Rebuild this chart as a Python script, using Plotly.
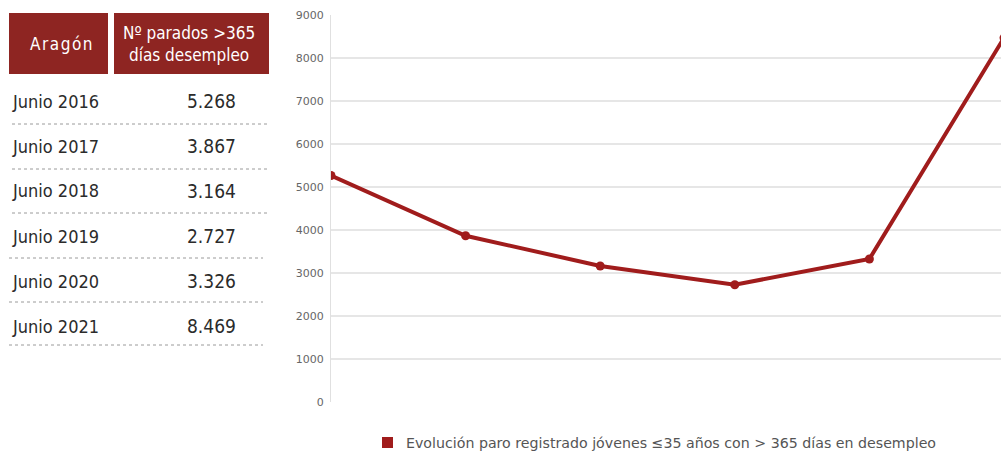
import plotly.graph_objects as go

# ---- data ----
years = ["Junio 2016", "Junio 2017", "Junio 2018", "Junio 2019", "Junio 2020", "Junio 2021"]
parados = [5268, 3867, 3164, 2727, 3326, 8469]
parados_txt = ["5.268", "3.867", "3.164", "2.727", "3.326", "8.469"]
y_ticks = [0, 1000, 2000, 3000, 4000, 5000, 6000, 7000, 8000, 9000]
header_region = "Aragón"
header_value = "Nº parados >365<br>días desempleo"
series_name = "Evolución paro registrado jóvenes ≤35 años con > 365 días en desempleo"

RED = "#a01c1c"
HEAD = "#8e2522"
W, H = 1001, 452
PLOT_L, PLOT_T, PLOT_B = 331, 15, 402  # in window pixels
L, T = PLOT_L, PLOT_T
B = H - PLOT_B
R = 0
PW = W - L - R
PH = H - T - B


def px(x):
    return (x - PLOT_L) / PW


def py(y):
    return (PLOT_B - y) / PH


fig = go.Figure()
fig.add_trace(go.Scatter(
    x=list(range(len(parados))), y=parados, mode="lines+markers", name=series_name,
    line=dict(color=RED, width=4), marker=dict(color=RED, size=9),
    showlegend=False, hoverinfo="y",
))

shapes = []
annotations = []
NARROW = "DejaVu Sans Condensed, Liberation Sans Narrow, sans-serif"
shapes.append(dict(type="rect", xref="paper", yref="paper", x0=px(9), x1=px(108), y0=py(74), y1=py(13),
                   fillcolor=HEAD, line=dict(width=0), layer="above"))
shapes.append(dict(type="rect", xref="paper", yref="paper", x0=px(114), x1=px(269), y0=py(74), y1=py(13),
                   fillcolor=HEAD, line=dict(width=0), layer="above"))
annotations.append(dict(xref="paper", yref="paper", x=px(61), y=py(44),
                        text="\u200a".join(header_region),
                        showarrow=False, font=dict(family=NARROW, size=17, color="white"),
                        xanchor="center", yanchor="middle"))
annotations.append(dict(xref="paper", yref="paper", x=px(189), y=py(44), text=header_value,
                        showarrow=False, font=dict(family=NARROW, size=17, color="white"),
                        xanchor="center", yanchor="middle", align="center"))
row_y = [101, 146, 191, 236, 281, 326]
sep_y = [124, 169, 213, 258, 302, 345]
for i, (lab, val) in enumerate(zip(years, parados_txt)):
    annotations.append(dict(xref="paper", yref="paper", x=px(10), y=py(row_y[i]), text=lab,
                            showarrow=False, font=dict(family=NARROW, size=18, color="#2b2b2b"),
                            xanchor="left", yanchor="middle"))
    annotations.append(dict(xref="paper", yref="paper", x=px(238), y=py(row_y[i]), text=val,
                            showarrow=False, font=dict(family=NARROW, size=19, color="#2b2b2b"),
                            xanchor="right", yanchor="middle"))
    x1 = 267 if i < 3 else 263
    x0 = 12 if i < 3 else 9
    shapes.append(dict(type="line", xref="paper", yref="paper", x0=px(x0), x1=px(x1),
                       y0=py(sep_y[i]), y1=py(sep_y[i]),
                       line=dict(color="#9a9a9a", width=1, dash="dot")))

# legend swatch + label (drawn manually so the plot area is not pushed)
shapes.append(dict(type="rect", xref="paper", yref="paper", x0=px(382), x1=px(393), y0=py(448), y1=py(437),
                   fillcolor=RED, line=dict(width=0)))
annotations.append(dict(xref="paper", yref="paper", x=px(404), y=py(443), text=series_name,
                        showarrow=False, font=dict(family="DejaVu Sans, Verdana, sans-serif", size=14.2,
                                                   color="#555555"),
                        xanchor="left", yanchor="middle"))

fig.update_layout(
    width=W, height=H,
    margin=dict(l=L, r=R, t=T, b=B),
    paper_bgcolor="white", plot_bgcolor="white",
    shapes=shapes, annotations=annotations,
    xaxis=dict(range=[0, PW / 134.6], showgrid=False, zeroline=False, showticklabels=False,
               showline=False, fixedrange=True),
    yaxis=dict(range=[0, 9000], tickvals=y_ticks, ticktext=[str(v) for v in y_ticks],
               showgrid=True, gridcolor="#e6e6e6", gridwidth=1.5, zeroline=False,
               showline=True, linecolor="#e0e0e0", linewidth=1,
               ticks="outside", ticklen=4, tickcolor="rgba(0,0,0,0)",
               tickfont=dict(family="DejaVu Sans, Verdana, sans-serif", size=11, color="#666666")),
    showlegend=False,
)

fig.write_html("out.html", config={"displayModeBar": False},
               post_script="document.body.style.margin='0';document.body.style.overflow='hidden';")
